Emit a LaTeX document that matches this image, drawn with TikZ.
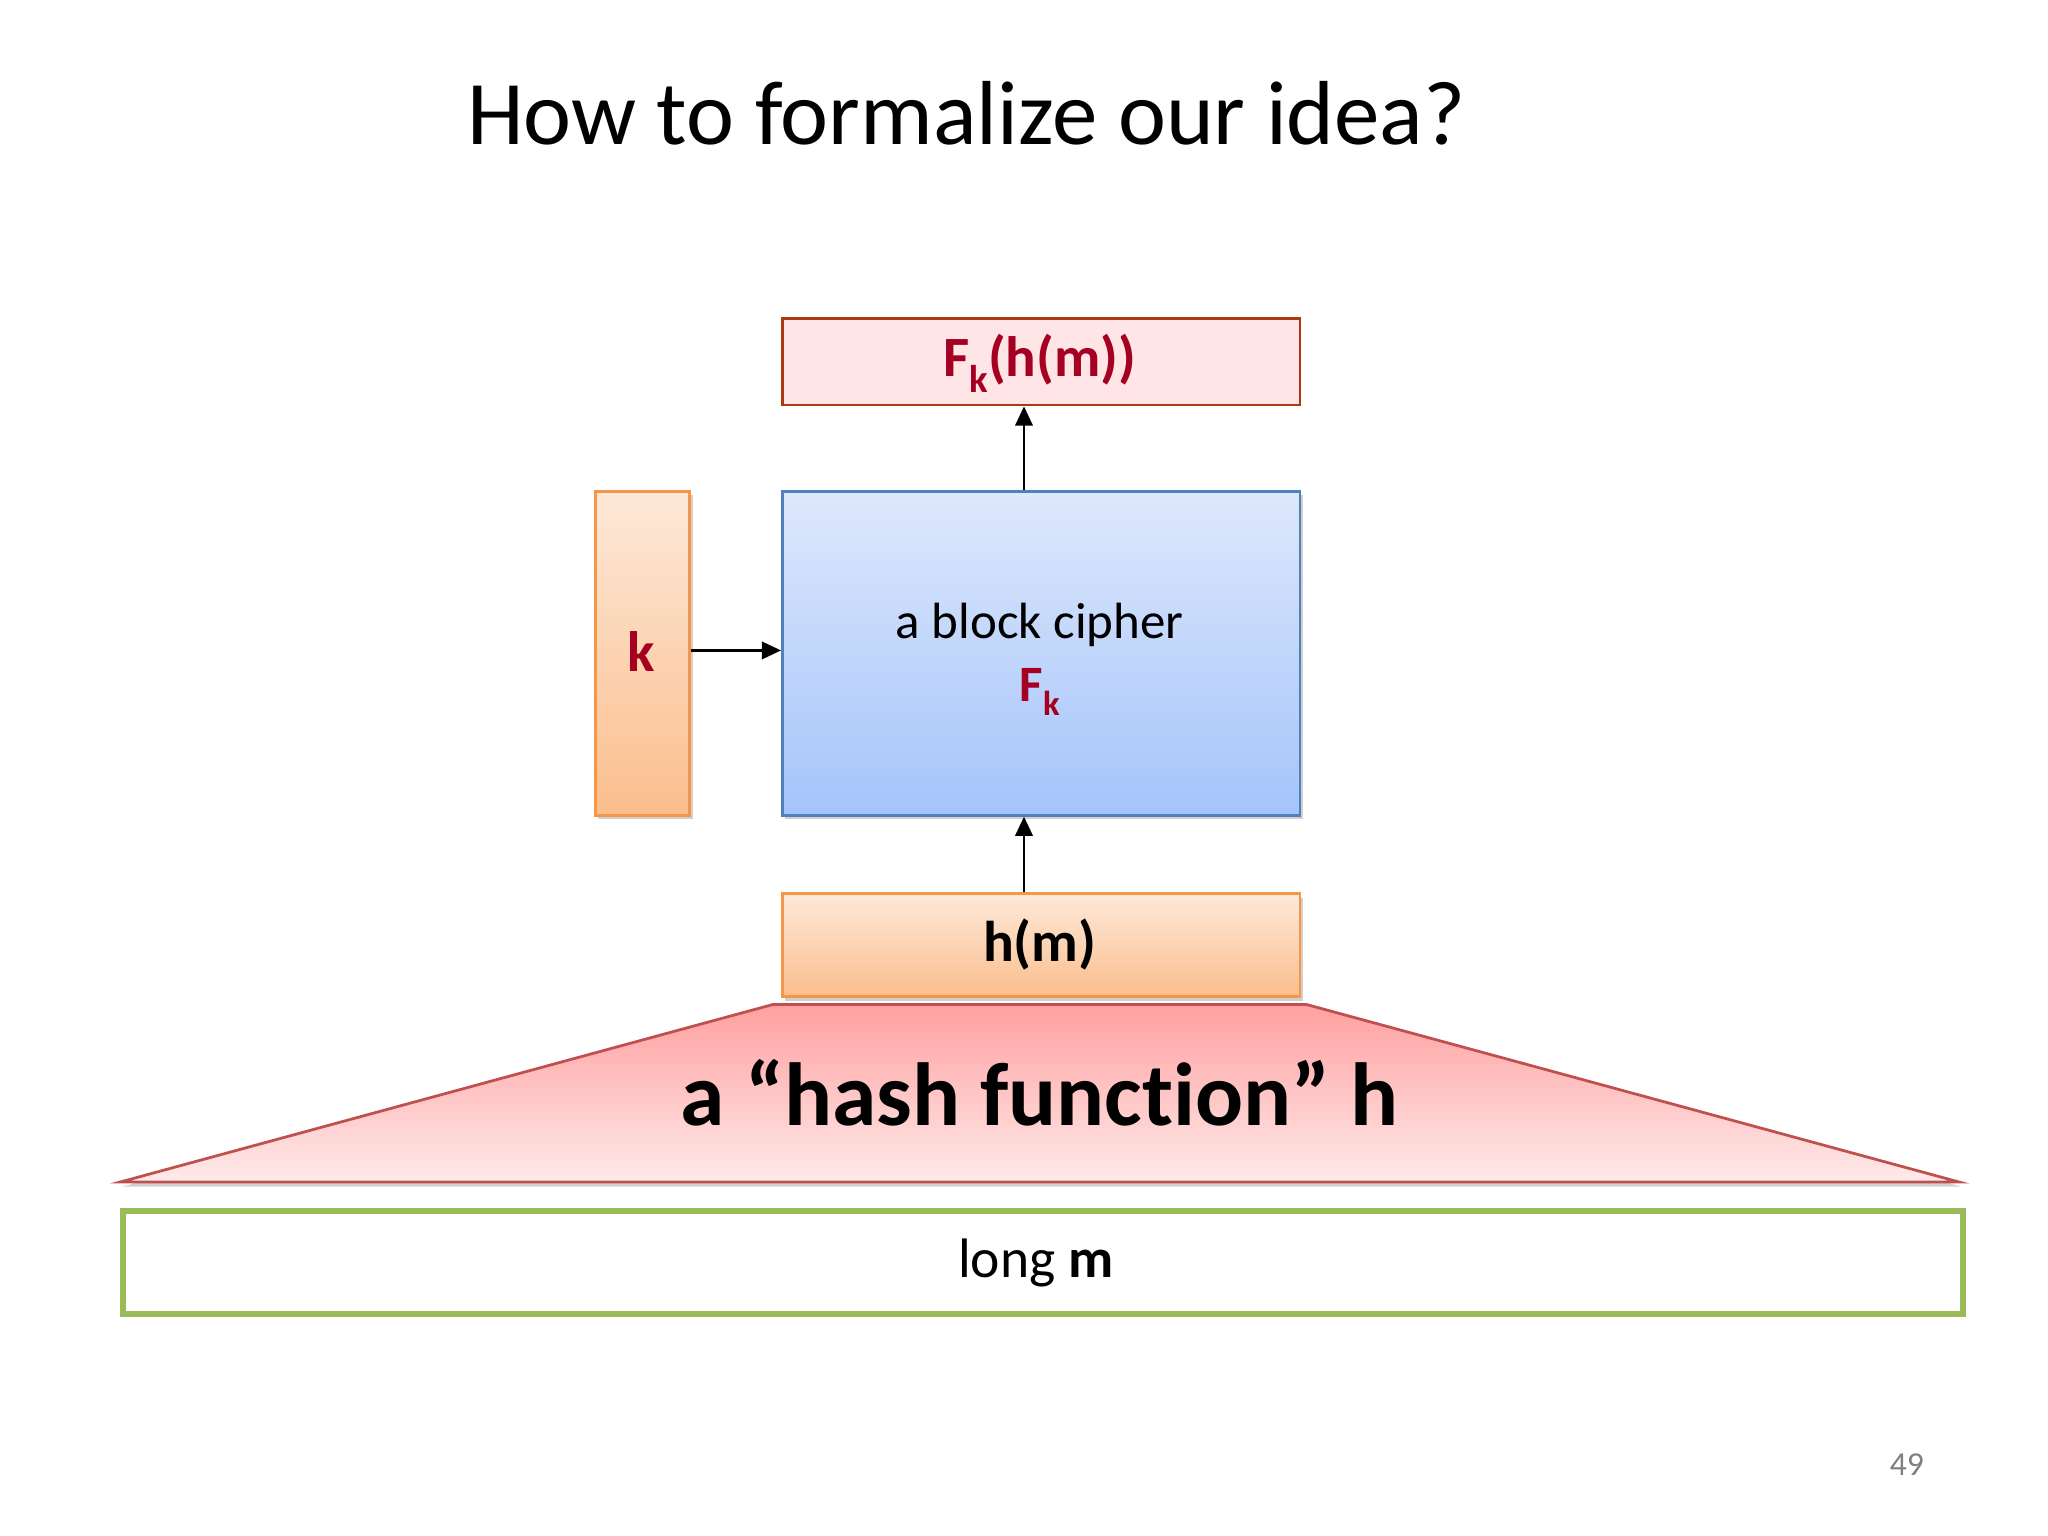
\documentclass[tikz,border=0pt]{standalone}
\usepackage{fontspec}
\setmainfont{Carlito}[Ligatures=NoCommon]
\usetikzlibrary{shadows,arrows.meta}
\definecolor{dred}{RGB}{165,0,33}
\definecolor{fbfill}{RGB}{255,229,229}
\definecolor{fbdraw}{RGB}{168,58,22}
\definecolor{orgtop}{RGB}{253,233,217}
\definecolor{orgbot}{RGB}{251,190,140}
\definecolor{orgdraw}{RGB}{247,150,70}
\definecolor{bluetop}{RGB}{222,232,252}
\definecolor{bluebot}{RGB}{164,196,250}
\definecolor{bluedraw}{RGB}{79,129,189}
\definecolor{trtop}{RGB}{255,160,160}
\definecolor{trbot}{RGB}{255,234,234}
\definecolor{trdraw}{RGB}{192,80,77}
\definecolor{grdraw}{RGB}{155,187,89}
\newcommand{\subk}{\raisebox{-0.28em}{\fontsize{0.68em}{0.8em}\selectfont k}}
\tikzset{
  boxbase/.style={rectangle, inner sep=0pt, anchor=north west, line width=0.6pt,
    drop shadow={shadow xshift=0.6pt, shadow yshift=-0.9pt, opacity=0.3, fill=black!60}},
  outbox/.style={rectangle, inner sep=0pt, anchor=north west, line width=0.6pt, fill=fbfill, draw=fbdraw},
  orgbox/.style={boxbase, top color=orgtop, bottom color=orgbot, draw=orgdraw},
  bluebox/.style={boxbase, top color=bluetop, bottom color=bluebot, draw=bluedraw},
  msgbox/.style={rectangle, inner sep=0pt, anchor=north west, line width=1.2pt, draw=grdraw, fill=white},
  conn/.style={line width=0.55pt, -{Triangle[length=4.2pt,width=3.8pt]}},
}
\begin{document}
\begin{tikzpicture}[x=0.01cm,y=-0.01cm]
\useasboundingbox (0,0) rectangle (1568,1176);
\fill[white] (0,0) rectangle (1568,1176);

\node[anchor=base, font=\fontsize{19.8}{23}\selectfont] (title) at (740,111) {How to formalize our idea?};

\node[outbox, minimum width=3.96cm, minimum height=0.66cm] (out) at (598,243) {};
\node[text=dred, font=\fontsize{12.4}{14}\selectfont\bfseries] (outtxt) at (796,278) {F\subk(h(m))};

\node[orgbox, minimum width=0.72cm, minimum height=2.48cm] (k) at (455,375) {};
\node[text=dred, font=\fontsize{12.4}{14}\selectfont\bfseries] (ktxt) at (491,499) {k};

\node[bluebox, minimum width=3.96cm, minimum height=2.48cm] (bc) at (598,375) {};
\node[align=center, font=\fontsize{11.1}{13.7}\selectfont] (bctxt) at (796,505) {a block cipher\\[0pt]{\color{dred}\bfseries F\subk}};

\node[orgbox, minimum width=3.96cm, minimum height=0.79cm] (hm) at (598,683) {};
\node[font=\fontsize{12.5}{14}\selectfont\bfseries] (hmtxt) at (796,723) {h(m)};

\path[draw=trdraw, line width=0.6pt, top color=trtop, bottom color=trbot,
  drop shadow={shadow xshift=0.5pt, shadow yshift=-1pt, opacity=0.3, fill=black!60}]
  (592,769) -- (1000,769) -- (1500,905) -- (92,905) -- cycle;
\node[anchor=base, font=\fontsize{19.5}{22}\selectfont\bfseries] (hash) at (796,862) {a “hash function” h};

\node[msgbox, minimum width=14.08cm, minimum height=0.79cm] (msg) at (92,925) {};
\node[anchor=base, font=\fontsize{12.1}{14}\selectfont] (msgtxt) at (793,978) {long \textbf{m}};

\node[anchor=base, text=black!50, font=\fontsize{7.3}{9}\selectfont] (pg) at (1460,1130) {49};

\coordinate (ax) at (784,0);
\draw[conn] (bc.north -| ax) -- (out.south -| ax);
\draw[conn] (hm.north -| ax) -- (bc.south -| ax);
\draw[conn] (k.east |- 0,498) -- (bc.west |- 0,498);
\end{tikzpicture}
\end{document}
